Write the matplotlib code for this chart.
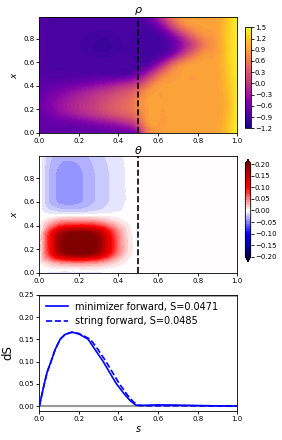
import numpy as np
import matplotlib
matplotlib.use("Agg")
import matplotlib.pyplot as plt
import matplotlib.tri as mtri

# ---------------- data ----------------
theta_grid = [0.0, 0.05, 0.1, 0.15, 0.2, 0.25, 0.3, 0.35, 0.4, 0.45, 0.5,
              0.55, 0.6, 0.65, 0.7, 0.75, 0.8, 0.85, 0.9, 0.95, 1.0]
x_grid = [0.0, 1/12, 2/12, 3/12, 4/12, 5/12, 6/12, 7/12, 8/12, 9/12, 10/12, 11/12, 1.0]

# rho field: one row per x, one column per theta
rho_rows = [
    [-0.72, -0.72, -0.72, -0.72, -0.72, -0.72, -0.72, -0.72, -0.71, -0.70, -0.40, 0.60, 0.86, 0.90, 0.91, 0.91, 0.91, 0.92, 0.94, 1.15, 1.42],
    [-0.72, -0.70, -0.68, -0.64, -0.60, -0.53, -0.45, -0.36, -0.25, -0.10, 0.25, 0.82, 0.90, 0.91, 0.91, 0.91, 0.91, 0.92, 0.94, 1.12, 1.42],
    [-0.70, -0.60, -0.45, -0.32, -0.20, -0.08, 0.05, 0.18, 0.30, 0.42, 0.62, 0.88, 0.91, 0.91, 0.91, 0.91, 0.91, 0.92, 0.93, 1.08, 1.42],
    [-0.68, -0.52, -0.38, -0.24, -0.12, 0.00, 0.12, 0.25, 0.37, 0.50, 0.72, 0.90, 0.91, 0.91, 0.91, 0.91, 0.91, 0.92, 0.93, 1.05, 1.42],
    [-0.72, -0.62, -0.50, -0.38, -0.27, -0.15, -0.03, 0.08, 0.20, 0.32, 0.55, 0.84, 0.90, 0.91, 0.91, 0.91, 0.91, 0.92, 0.93, 1.08, 1.42],
    [-0.76, -0.74, -0.72, -0.68, -0.62, -0.55, -0.47, -0.38, -0.27, -0.15, 0.05, 0.45, 0.80, 0.90, 0.91, 0.91, 0.91, 0.92, 0.94, 1.12, 1.42],
    [-0.80, -0.84, -0.84, -0.84, -0.84, -0.84, -0.84, -0.84, -0.84, -0.82, -0.60, -0.20, 0.30, 0.72, 0.88, 0.91, 0.91, 0.92, 0.94, 1.15, 1.42],
    [-0.80, -0.86, -0.87, -0.87, -0.87, -0.88, -0.88, -0.88, -0.88, -0.88, -0.90, -0.82, -0.45, 0.10, 0.60, 0.84, 0.91, 0.92, 0.95, 1.18, 1.42],
    [-0.80, -0.87, -0.89, -0.89, -0.89, -0.91, -0.93, -0.93, -0.90, -0.90, -0.92, -0.92, -0.88, -0.68, -0.25, 0.25, 0.65, 0.85, 0.92, 1.20, 1.42],
    [-0.80, -0.87, -0.89, -0.89, -0.90, -0.93, -0.97, -0.97, -0.92, -0.90, -0.93, -0.95, -0.93, -0.82, -0.55, -0.12, 0.32, 0.70, 0.90, 1.20, 1.42],
    [-0.80, -0.87, -0.89, -0.89, -0.89, -0.91, -0.93, -0.93, -0.90, -0.90, -0.92, -0.92, -0.88, -0.68, -0.25, 0.22, 0.62, 0.83, 0.92, 1.20, 1.42],
    [-0.80, -0.86, -0.88, -0.88, -0.88, -0.88, -0.88, -0.88, -0.88, -0.88, -0.88, -0.84, -0.60, -0.12, 0.42, 0.76, 0.88, 0.91, 0.94, 1.18, 1.42],
    [-0.80, -0.85, -0.87, -0.87, -0.87, -0.87, -0.87, -0.87, -0.87, -0.87, -0.86, -0.68, -0.22, 0.36, 0.75, 0.88, 0.91, 0.92, 0.94, 1.16, 1.42],
]

# theta field for theta in [0, 0.5]; it is zero for theta > 0.5
theta_rows_left = [
    [0, -0.008, -0.013, -0.014, -0.013, -0.010, -0.008, -0.006, -0.003, -0.001, 0],
    [0, 0.020, 0.036, 0.044, 0.046, 0.044, 0.036, 0.023, 0.010, 0.002, 0],
    [0, 0.082, 0.158, 0.192, 0.204, 0.196, 0.163, 0.103, 0.046, 0.010, 0],
    [0, 0.090, 0.175, 0.215, 0.230, 0.222, 0.185, 0.118, 0.053, 0.012, 0],
    [0, 0.082, 0.158, 0.192, 0.204, 0.196, 0.163, 0.103, 0.046, 0.010, 0],
    [0, 0.028, 0.055, 0.066, 0.070, 0.068, 0.056, 0.036, 0.016, 0.004, 0],
    [0, -0.006, -0.009, -0.010, -0.009, -0.008, -0.006, -0.004, -0.0025, -0.001, 0],
    [0, -0.025, -0.036, -0.038, -0.036, -0.029, -0.021, -0.015, -0.0085, -0.0035, 0],
    [0, -0.027, -0.039, -0.041, -0.039, -0.031, -0.023, -0.016, -0.009, -0.004, 0],
    [0, -0.027, -0.039, -0.041, -0.039, -0.031, -0.023, -0.016, -0.009, -0.004, 0],
    [0, -0.027, -0.039, -0.041, -0.039, -0.031, -0.023, -0.016, -0.009, -0.004, 0],
    [0, -0.025, -0.036, -0.038, -0.036, -0.029, -0.021, -0.015, -0.0085, -0.0035, 0],
    [0, -0.021, -0.031, -0.033, -0.031, -0.025, -0.018, -0.013, -0.0075, -0.003, 0],
]
theta_right_value = 0.0

# dS curves
s_min = [0.0, 0.01, 0.025, 0.04, 0.059, 0.08, 0.105, 0.13, 0.165, 0.2, 0.247, 0.28, 0.323,
         0.36, 0.39, 0.43, 0.46, 0.49, 0.52, 0.6, 0.7, 0.8, 0.9, 1.0]
dS_min = [0.0, 0.02, 0.05, 0.077, 0.10, 0.127, 0.15, 0.161, 0.166, 0.162, 0.15, 0.128, 0.10,
          0.072, 0.05, 0.027, 0.012, 0.002, 0.002, 0.003, 0.0025, 0.0015, 0.0008, 0.0003]
s_str = [0.0, 0.01, 0.025, 0.04, 0.059, 0.08, 0.105, 0.13, 0.165, 0.2, 0.258, 0.295, 0.337,
         0.375, 0.405, 0.445, 0.475, 0.5, 0.53, 0.6, 0.7, 0.8, 0.9, 1.0]
dS_str = [0.0, 0.02, 0.05, 0.077, 0.10, 0.127, 0.15, 0.161, 0.166, 0.163, 0.15, 0.128, 0.10,
          0.072, 0.05, 0.025, 0.01, 0.002, 0.001, 0.001, 0.001, 0.001, 0.0007, 0.0003]
label_min = "minimizer forward, S=0.0471"
label_str = "string forward, S=0.0485"

rho_ticks = [-1.2, -0.9, -0.6, -0.3, 0.0, 0.3, 0.6, 0.9, 1.2, 1.5]
th_ticks = [-0.20, -0.15, -0.10, -0.05, 0.00, 0.05, 0.10, 0.15, 0.20]
theta_split = 0.5

# ---------------- build fields ----------------
nt, nx = len(theta_grid), len(x_grid)
TT, XX = np.meshgrid(theta_grid, x_grid)
rho = np.array(rho_rows)
th_left = np.array(theta_rows_left)
th = np.full_like(rho, theta_right_value)
th[:, :th_left.shape[1]] = th_left

tris = []
for i in range(nx - 1):
    for j in range(nt - 1):
        a = i * nt + j
        b = a + 1
        c = a + nt
        d = c + 1
        tris.append([a, b, d])
        tris.append([a, d, c])
tri = mtri.Triangulation(TT.ravel(), XX.ravel(), np.array(tris))
refiner = mtri.UniformTriRefiner(tri)
rtri, rho_f = refiner.refine_field(rho.ravel(), subdiv=4,
                                  triinterpolator=mtri.CubicTriInterpolator(tri, rho.ravel(), kind='min_E'))
rtri2, th_f = refiner.refine_field(th.ravel(), subdiv=4,
                                   triinterpolator=mtri.CubicTriInterpolator(tri, th.ravel(), kind='geom'))
th_f = np.where(rtri2.x > theta_split, 0.0, th_f)

# ---------------- figure ----------------
fs_tick = 5
fig = plt.figure(figsize=(2.82, 4.4), dpi=100)

ax1 = fig.add_axes([0.1394, 0.6984, 0.702, 0.2636])
lev1 = np.linspace(-1.2, 1.5, 55)
cs1 = ax1.tricontourf(rtri, np.clip(rho_f, -1.2, 1.5), levels=lev1, cmap='plasma')
ax1.axvline(theta_split, color='k', ls='--', lw=1.2)
ax1.set_xlim(0, 1)
ax1.set_ylim(0, 0.99)
ax1.set_xticks([0, 0.2, 0.4, 0.6, 0.8, 1.0])
ax1.set_yticks([0, 0.2, 0.4, 0.6, 0.8])
ax1.tick_params(labelsize=fs_tick, length=2, width=0.6, pad=1.5)
ax1.set_title(r"$\rho$", fontsize=8, pad=1)
ax1.set_ylabel(r"$x$", fontsize=6.5, labelpad=3)
cax1 = fig.add_axes([0.870, 0.7084, 0.019, 0.2295])
cb1 = fig.colorbar(cs1, cax=cax1, ticks=rho_ticks)
cb1.ax.tick_params(labelsize=fs_tick, length=2, width=0.6, pad=1)
cb1.ax.set_yticklabels([f"{t:.1f}".replace('-', '\u2212') for t in rho_ticks])
cb1.outline.set_linewidth(0.6)

ax2 = fig.add_axes([0.1394, 0.3802, 0.702, 0.2652])
lev2 = np.linspace(-0.2, 0.2, 40)
cs2 = ax2.tricontourf(rtri2, th_f, levels=lev2, cmap='seismic', extend='both')
ax2.axvline(theta_split, color='k', ls='--', lw=1.2)
ax2.set_xlim(0, 1)
ax2.set_ylim(0, 0.99)
ax2.set_xticks([0, 0.2, 0.4, 0.6, 0.8, 1.0])
ax2.set_yticks([0, 0.2, 0.4, 0.6, 0.8])
ax2.tick_params(labelsize=fs_tick, length=2, width=0.6, pad=1.5)
ax2.set_title(r"$\theta$", fontsize=8, pad=1)
ax2.set_ylabel(r"$x$", fontsize=6.5, labelpad=3)
cax2 = fig.add_axes([0.870, 0.4057, 0.019, 0.2318])
cb2 = fig.colorbar(cs2, cax=cax2, ticks=th_ticks)
cb2.ax.tick_params(labelsize=fs_tick, length=2, width=0.6, pad=1)
cb2.ax.set_yticklabels([f"{t:.2f}".replace('-', '\u2212') for t in th_ticks])
cb2.outline.set_linewidth(0.6)

ax3 = fig.add_axes([0.1394, 0.0666, 0.702, 0.2636])
ax3.axhline(0.0, color='0.6', lw=1.5, zorder=1)
ax3.axhline(0.25, color='0.6', lw=2.0, zorder=1)
ax3.plot(s_min, dS_min, color='blue', lw=1.2, ls='-', label=label_min, zorder=3)
ax3.plot(s_str, dS_str, color='blue', lw=1.2, ls='--', label=label_str, zorder=3)
ax3.set_xlim(0, 1)
ax3.set_ylim(-0.01, 0.25)
ax3.set_xticks([0, 0.2, 0.4, 0.6, 0.8, 1.0])
ax3.set_yticks([0, 0.05, 0.10, 0.15, 0.20, 0.25])
ax3.tick_params(labelsize=fs_tick, length=2, width=0.6, pad=1.5)
ax3.set_xlabel(r"$s$", fontsize=7, labelpad=2)
ax3.set_ylabel("dS", fontsize=8.5, labelpad=3)
ax3.legend(loc='upper left', frameon=False, fontsize=7, handlelength=2.2,
           borderaxespad=0.3, bbox_to_anchor=(0.0, 1.0))

for a in (ax1, ax2, ax3):
    for sp in a.spines.values():
        sp.set_linewidth(0.6)

fig.savefig("out.png", dpi=100)
